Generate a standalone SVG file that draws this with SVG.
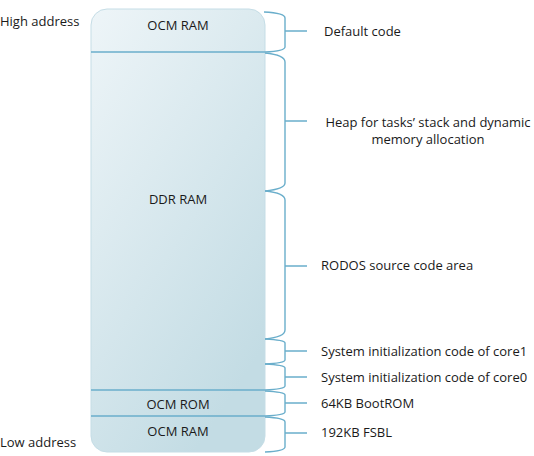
<svg xmlns="http://www.w3.org/2000/svg" width="534" height="456" viewBox="0 0 534 456">
<defs>
<linearGradient id="g" x1="0" y1="0" x2="0.6" y2="1">
<stop offset="0" stop-color="#eef5f8"/>
<stop offset="1" stop-color="#c3dce4"/>
</linearGradient>
</defs>
<style>
text{font-family:"Open Sans","Liberation Sans",sans-serif;font-size:13px;fill:#1a1a1a}
.c{text-anchor:middle}
.sep{stroke:#6aaecb;stroke-width:1.3;fill:none}
.br{stroke:#6aaecb;stroke-width:1.4;fill:none}
</style>
<rect width="534" height="456" fill="#fff"/>
<g id="memory">
<rect x="91" y="9" width="174" height="443" rx="16" fill="url(#g)" stroke="#c5dde6" stroke-width="1"/>
<line class="sep" x1="91" y1="52" x2="265" y2="52"/>
<line class="sep" x1="91" y1="390" x2="265" y2="390"/>
<line class="sep" x1="91" y1="416" x2="265" y2="416"/>
<text class="c" x="178" y="30">OCM RAM</text>
<text class="c" x="178" y="204">DDR RAM</text>
<text class="c" x="178" y="409">OCM ROM</text>
<text class="c" x="178" y="436">OCM RAM</text>
</g>
<g id="addresses">
<text x="0" y="26">High address</text>
<text x="0" y="447">Low address</text>
</g>
<g id="braces">
<path class="br" d="M264,12 Q285,13 285,18 V47 Q285,51 265,52 M285,31 H307"/>
<path class="br" d="M265,53 Q285,55 285,62 V183 Q285,189 265,191 M285,121 H307"/>
<path class="br" d="M265,191 Q285,193 285,200 V330 Q285,337 265,339 M285,266 H307"/>
<path class="br" d="M265,339 Q285,340 285,343 V360 Q285,363 265,364 M285,351 H307"/>
<path class="br" d="M265,364 Q285,365 285,368 V386 Q285,389 265,390 M285,377 H307"/>
<path class="br" d="M265,391 Q285,392 285,395 V412 Q285,415 265,416 M285,403 H307"/>
<path class="br" d="M265,417 Q285,418 285,422 V447 Q285,451 265,452 M285,433 H307"/>
</g>
<g id="labels">
<text x="324" y="36">Default code</text>
<text class="c" x="428" y="127">Heap for tasks’ stack and dynamic</text>
<text class="c" x="428" y="144">memory allocation</text>
<text x="321" y="270">RODOS source code area</text>
<text x="321" y="356">System initialization code of core1</text>
<text x="321" y="382">System initialization code of core0</text>
<text x="321" y="408">64KB BootROM</text>
<text x="321" y="437">192KB FSBL</text>
</g>
</svg>
